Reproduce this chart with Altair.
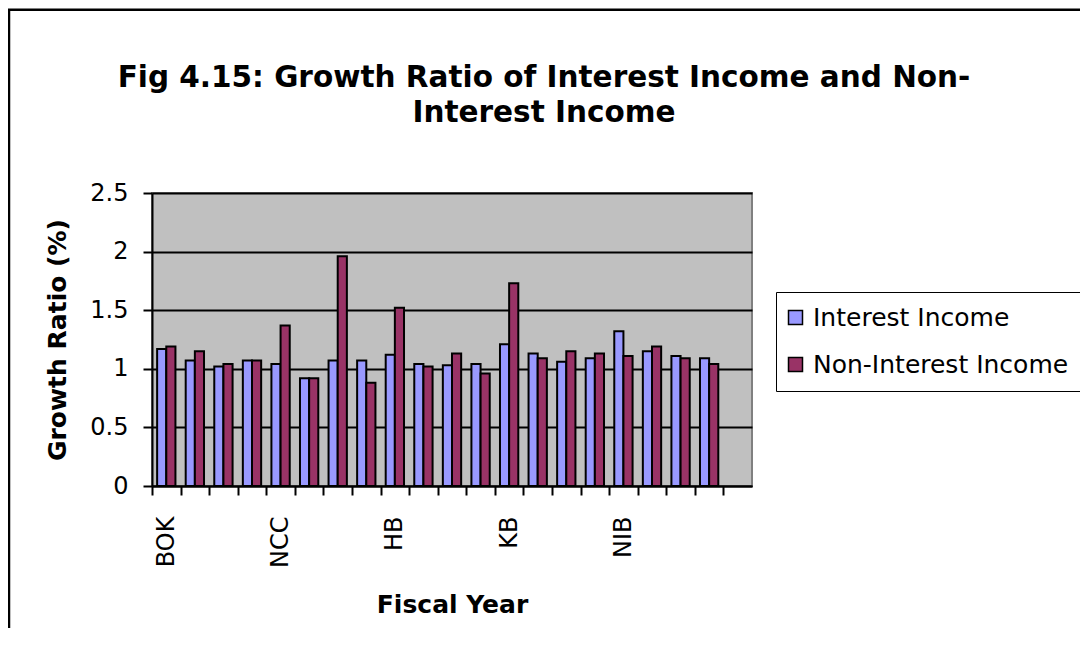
import altair as alt
import pandas as pd

categories = ["BOK", "BOK_2", "BOK_3", "BOK_4",
              "NCC", "NCC_2", "NCC_3", "NCC_4",
              "HB", "HB_2", "HB_3", "HB_4",
              "KB", "KB_2", "KB_3", "KB_4",
              "NIB", "NIB_2", "NIB_3", "NIB_4",
              "_"]
interest_income = [1.17, 1.07, 1.02, 1.07, 1.04, 0.92, 1.07, 1.07, 1.12, 1.04,
                   1.03, 1.04, 1.21, 1.13, 1.06, 1.09, 1.32, 1.15, 1.11, 1.09]
non_interest_income = [1.19, 1.15, 1.04, 1.07, 1.37, 0.92, 1.96, 0.88, 1.52, 1.02,
                       1.13, 0.96, 1.73, 1.09, 1.15, 1.13, 1.11, 1.19, 1.09, 1.04]
series_names = ["Interest Income", "Non-Interest Income"]
series_colors = ["#9999FF", "#993366"]
y_ticks = [0, 0.5, 1, 1.5, 2, 2.5]

rows = []
for i in range(len(interest_income)):
    rows.append({"cat": categories[i], "series": series_names[0], "value": interest_income[i]})
    rows.append({"cat": categories[i], "series": series_names[1], "value": non_interest_income[i]})
df = pd.DataFrame(rows)

W, H = 600, 293
half_step = W / len(categories) / 2

bars = alt.Chart(df).mark_bar(stroke="black", strokeWidth=2).encode(
    x=alt.X(
        "cat:N",
        sort=categories,
        scale=alt.Scale(domain=categories, paddingInner=0, paddingOuter=0),
        axis=alt.Axis(
            title="Fiscal Year",
            labelExpr="indexof(datum.value, '_') >= 0 ? '' : datum.value",
            labelAngle=270,
            labelPadding=21, labelFontSize=24, labelOverlap=False,
            tickOffset=-half_step, labelOffset=half_step,
            tickSize=9, tickWidth=2, tickColor="black",
            domainColor="black", domainWidth=2, grid=False,
            titleFontSize=25, titlePadding=25,
        ),
    ),
    xOffset=alt.XOffset("series:N", sort=series_names,
                        scale=alt.Scale(domain=series_names, paddingInner=0, paddingOuter=0.56)),
    y=alt.Y(
        "value:Q",
        scale=alt.Scale(domain=[0, 2.5], nice=False, zero=True),
        axis=alt.Axis(
            title="Growth Ratio (%)",
            values=y_ticks, format="~g",
            labelFontSize=24, labelPadding=15,
            tickSize=9, tickWidth=2, tickColor="black",
            domainColor="black", domainWidth=2,
            grid=True, gridWidth=2, gridColor="black",
            titleFontSize=25, titlePadding=19,
        ),
    ),
    color=alt.Color(
        "series:N", sort=series_names,
        scale=alt.Scale(domain=series_names, range=series_colors),
        title=None,
        legend=alt.Legend(
            orient="none", legendX=624, legendY=99,
            strokeColor="black", fillColor="white",
            padding=13, rowPadding=21,
            symbolType="square", symbolSize=196, symbolOffset=-6,
            symbolStrokeColor="black", symbolStrokeWidth=1.5,
            labelFontSize=25, labelOffset=5, labelLimit=400,
        ),
    ),
)

frame = alt.Chart(pd.DataFrame({"k": [0]})).mark_rect(
    fill="transparent", stroke="black", strokeWidth=2.5
).encode(
    x=alt.value(-143), x2=alt.value(1200),
    y=alt.value(-183.3), y2=alt.value(1000),
)

chart = alt.layer(frame, bars).properties(
    width=W, height=H,
    autosize=alt.AutoSizeParams(type="none"),
    padding={"left": 144, "top": 185, "right": 328, "bottom": 142},
    title=alt.TitleParams(
        text=["Fig 4.15: Growth Ratio of Interest Income and Non-", "Interest Income"],
        anchor="middle", dx=92, dy=120.5, offset=0, lineHeight=35,
        font="DejaVu Sans", fontSize=29.5, fontWeight="bold", color="black",
    ),
).configure(
    background="white",
    font="DejaVu Sans",
).configure_view(
    fill="#C0C0C0", stroke="#808080", strokeWidth=2,
).configure_axis(
    labelFont="DejaVu Sans", labelColor="black",
    titleFont="DejaVu Sans", titleFontWeight="bold", titleColor="black",
).configure_legend(
    labelFont="DejaVu Sans", labelColor="black",
)

chart.save("out.html", embed_options={"renderer": "svg", "actions": False})
